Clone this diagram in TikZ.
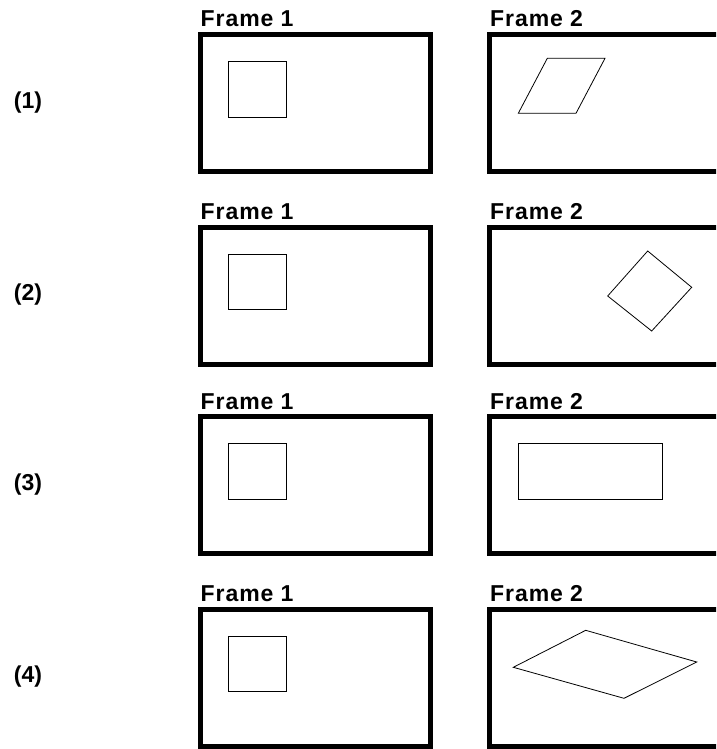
\documentclass[tikz,border=0pt]{standalone}
\usepackage{fontspec}
\setmainfont{Liberation Sans}
\usepackage{tikz}
\usetikzlibrary{positioning}

\tikzset{
  frame/.style={line width=5pt},
  figline/.style={line width=0.8pt},
  title/.style={font=\fontsize{23}{25}\selectfont\bfseries\addfontfeature{LetterSpace=4}, anchor=base west, inner sep=0pt},
  rowlabel/.style={font=\fontsize{23}{25}\selectfont\bfseries, inner sep=0pt}
}

\begin{document}
\begin{tikzpicture}[x=1pt, y=-1pt]
  \useasboundingbox (0,0) rectangle (716,749);
  \clip (0,0) rectangle (716,749);

  % frames and titles
  \foreach \top/\n in {34.5/1, 227/2, 416.5/3, 609/4} {
    \draw[frame] (200.5,\top) rectangle (430,\top+137);
    \draw[frame] (489.7,\top) rectangle (719.5,\top+137);
    \node[title] (fa\n) at (200.5,\top-7.5) {Frame 1};
    \node[title] (fb\n) at (490,\top-7.5) {Frame 2};
    \node[rowlabel] (lab\n) at (28,\top+68) {(\n)};
    % the square in frame 1
    \draw[figline] (228.7,\top+27.2) rectangle (286.7,\top+82.5);
  }

  % frame 2 shapes
  \draw[figline] (518.3,113.3) -- (576,113.3) -- (605,58.3) -- (547.3,58.3) -- cycle;
  \draw[figline] (647.7,251) -- (691.7,287.3) -- (651.7,331) -- (607.7,296) -- cycle;
  \draw[figline] (518,443.7) rectangle (662.7,499);
  \draw[figline] (513.3,667.3) -- (585.7,630.3) -- (696.7,662) -- (624,698.3) -- cycle;
\end{tikzpicture}
\end{document}
